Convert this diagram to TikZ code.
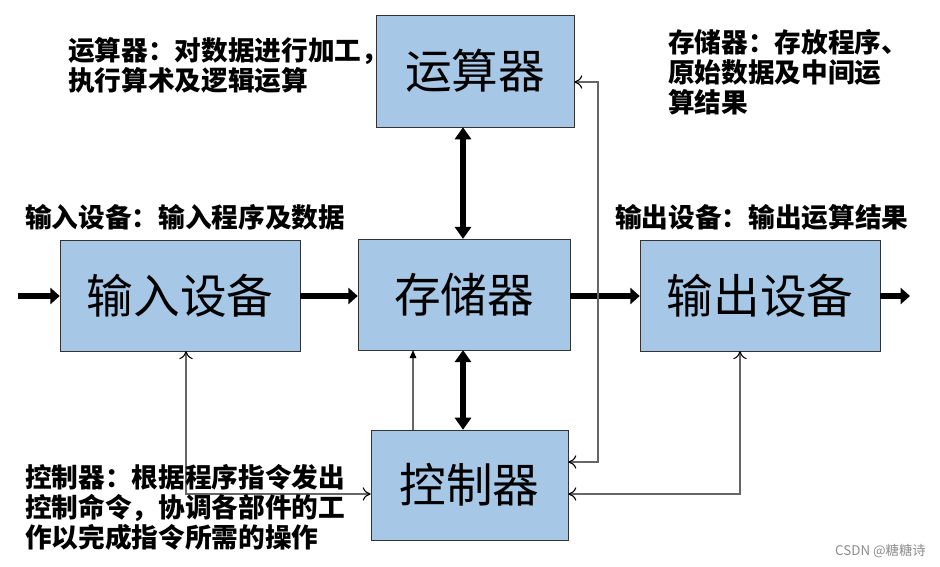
\documentclass[tikz,border=0pt]{standalone}
\usepackage{fontspec}
\setmainfont{Noto Sans CJK SC}
\usetikzlibrary{arrows.meta}
\begin{document}
\begin{tikzpicture}[x=0.75pt,y=-0.75pt,
  box/.style={draw=black!80,fill={rgb,255:red,166;green,199;blue,230},minimum width=#1*0.75pt,inner sep=0pt,font=\fontsize{35}{40}\selectfont},
  lab/.style={anchor=north west,inner sep=0pt,align=left,font=\fontsize{20}{22.5}\selectfont\bfseries},
  thick arr/.style={line width=5pt,-{Triangle[length=7pt,width=12pt]}},
  dbl/.style={line width=5pt,{Triangle[length=9pt,width=12pt]}-{Triangle[length=9pt,width=12pt]}},
  thin/.style={draw=black!60,line width=0.8pt,{To[length=6pt,width=10pt,black]}-{To[length=6pt,width=10pt,black]}}]
\useasboundingbox (0,0) rectangle (940,567);
\node[box=198,minimum height=84pt] (alu) at (475,71) {运算器};
\node[box=212,minimum height=83pt] (mem) at (464,294.5) {存储器};
\node[box=240,minimum height=83pt] (in) at (180,295.5) {输入设备};
\node[box=240,minimum height=83pt] (out) at (760,295.5) {输出设备};
\node[box=197,minimum height=82.5pt] (ctl) at (469.5,485) {控制器};
\coordinate (s) at (18,296);
\coordinate (e) at (910,296);
\draw[thick arr] (s) -- (in.west|-s);
\draw[thick arr] (in.east|-s) -- (mem.west|-s);
\draw[thick arr] (mem.east|-s) -- (out.west|-s);
\draw[thick arr] (out.east|-s) -- (e);
\draw[dbl] (alu.south-|463,0) -- (mem.north-|463,0);
\draw[dbl] (mem.south-|463,0) -- (ctl.north-|463,0);
\draw[draw=black!60,line width=0.8pt,-{Triangle[length=6pt,width=5pt,black]}] (ctl.north-|413,0) -- (mem.south-|413,0);
\draw[thin] (ctl.east|-0,462) -- (598,462) -- (598,82) -- (alu.east|-0,82);
\draw[thin] (ctl.west|-0,494) -- (186,494) -- (in.south-|186,0);
\draw[thin] (ctl.east|-0,494) -- (740,494) -- (out.south-|740,0);
\node[lab] (l1) at (68,37) {运算器：对数据进行加工，\\执行算术及逻辑运算};
\node[lab] (l2) at (668,29) {存储器：存放程序、\\原始数据及中间运\\算结果};
\node[lab] (l3) at (25,204) {输入设备：输入程序及数据};
\node[lab] (l4) at (615,204) {输出设备：输出运算结果};
\node[lab] (l5) at (25,464) {控制器：根据程序指令发出\\控制命令，协调各部件的工\\作以完成指令所需的操作};
\node[anchor=east,inner sep=0pt,text=black!45,font=\fontsize{10}{12}\selectfont] (wm) at (926,551) {CSDN @糖糖诗};
\end{tikzpicture}
\end{document}
